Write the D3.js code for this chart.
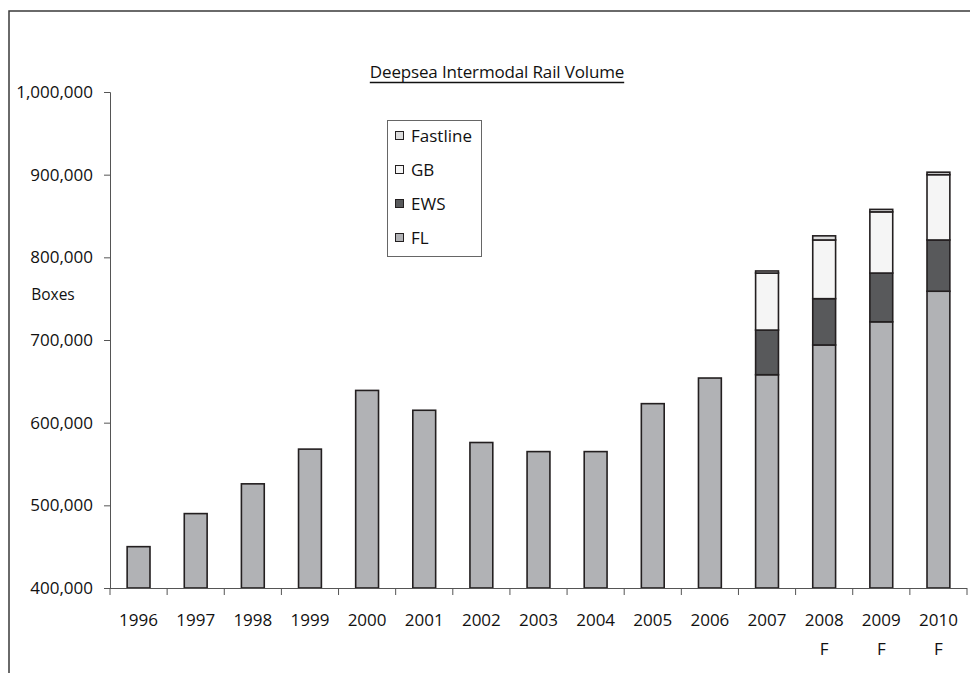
<!DOCTYPE html>
<html><head><meta charset="utf-8">
<script src="https://cdn.jsdelivr.net/npm/d3@7"></script>
<style>
body{margin:0;background:#fff;}
svg{display:block;font-family:"Open Sans",sans-serif;}
</style></head>
<body><svg id="c" width="970" height="673"></svg>
<script>
const years = ["1996","1997","1998","1999","2000","2001","2002","2003","2004","2005","2006","2007","2008","2009","2010"];
const forecast = ["","","","","","","","","","","","","F","F","F"];
const FL = [450000,490000,526000,568000,639000,615000,576000,565000,565000,623000,654000,658000,694000,722000,759000];
const EWS = [0,0,0,0,0,0,0,0,0,0,0,54000,56000,59000,62000];
const GB = [0,0,0,0,0,0,0,0,0,0,0,69000,71000,74000,79000];
const Fastline = [0,0,0,0,0,0,0,0,0,0,0,2500,5000,3000,3000];
const seriesNames = ["FL","EWS","GB","Fastline"];
const seriesColors = {FL:"#b1b2b5",EWS:"#58595b",GB:"#f5f5f5",Fastline:"#dcdcdc"};
const yTicks = [400000,500000,600000,700000,800000,900000,1000000];
const title = "Deepsea Intermodal Rail Volume";
const yLabel = "Boxes";

const svg = d3.select("#c");
const ink = "#231f20";

// frame
svg.append("path").attr("d","M9,673 V11 H970").attr("fill","none").attr("stroke","#3a3a3a").attr("stroke-width",1.5);

const x = d3.scaleBand().domain(years).range([110,967]).paddingInner(0.6).paddingOuter(0.3);
const xb = d3.scaleBand().domain(years).range([110,967]);
const y = d3.scaleLinear().domain([400000,1000000]).range([588,92]).clamp(true);

const table = years.map((yr,i)=>({year:yr,FL:FL[i],EWS:EWS[i],GB:GB[i],Fastline:Fastline[i]}));
const stacked = d3.stack().keys(seriesNames)(table);

const g = svg.append("g");
stacked.forEach(s=>{
  g.append("g").selectAll("rect").data(s.filter(d=>d[1]-d[0]>0)).join("rect")
    .attr("x",d=>x(d.data.year))
    .attr("width",x.bandwidth())
    .attr("y",d=>y(d[1]))
    .attr("height",d=>y(d[0])-y(d[1]))
    .attr("fill",seriesColors[s.key])
    .attr("stroke",ink).attr("stroke-width",1.6);
});

// y axis
const ya = svg.append("g").attr("transform","translate(110,0)")
  .call(d3.axisLeft(y).tickValues(yTicks).tickFormat(d3.format(",")).tickSize(6).tickPadding(11));
ya.attr("font-size",17).attr("font-family","Open Sans");
ya.select(".domain").attr("stroke","#555").attr("d","M-6,92.5H0.5V588");
ya.selectAll(".tick line").attr("stroke","#555");
ya.selectAll(".tick text").attr("fill","#111");

// x axis
const xa = svg.append("g").attr("transform","translate(0,588)")
  .call(d3.axisBottom(xb).tickSize(0).tickPadding(0).tickFormat(""));
xa.select(".domain").attr("stroke","#555").attr("d","M110,0.5H967");
xa.selectAll(".tick").remove();
xa.selectAll("line.b").data(years.concat(["end"])).join("line").attr("class","b")
  .attr("x1",(d,i)=>i<years.length?xb(d):xb.range()[1])
  .attr("x2",(d,i)=>i<years.length?xb(d):xb.range()[1])
  .attr("y1",0).attr("y2",7).attr("stroke","#555");
svg.append("g").selectAll("text").data(years).join("text")
  .attr("x",d=>xb(d)+xb.bandwidth()/2).attr("y",625.5)
  .attr("text-anchor","middle").attr("font-size",17).attr("fill","#111").text(d=>d);
svg.append("g").selectAll("text").data(years.map((d,i)=>({y:d,f:forecast[i]})).filter(d=>d.f)).join("text")
  .attr("x",d=>xb(d.y)+xb.bandwidth()/2).attr("y",654.5)
  .attr("text-anchor","middle").attr("font-size",17).attr("fill","#111").text(d=>d.f);

// y label
svg.append("text").attr("x",53).attr("y",300).attr("text-anchor","middle").attr("font-size",15.5).attr("fill","#111").text(yLabel);

// title
const t = svg.append("text").attr("x",497).attr("y",78).attr("text-anchor","middle").attr("font-size",17).attr("fill","#111").attr("letter-spacing",-0.15).text(title);
const bb = t.node().getBBox();
svg.append("line").attr("x1",bb.x).attr("x2",bb.x+bb.width).attr("y1",82.5).attr("y2",82.5).attr("stroke","#111").attr("stroke-width",1.6);

// legend
const lg = svg.append("g");
lg.append("rect").attr("x",387.5).attr("y",120.5).attr("width",94).attr("height",136).attr("fill","#fff").attr("stroke","#666");
const legendOrder = seriesNames.slice().reverse();
const legendY = d3.scalePoint().domain(legendOrder).range([136,238]);
legendOrder.forEach(k=>{
  lg.append("rect").attr("x",395.5).attr("y",legendY(k)-4.5).attr("width",8).attr("height",8)
    .attr("fill",seriesColors[k]).attr("stroke",ink).attr("stroke-width",1);
  lg.append("text").attr("x",411).attr("y",legendY(k)+6).attr("font-size",17).attr("fill","#111").text(k);
});
</script></body></html>
